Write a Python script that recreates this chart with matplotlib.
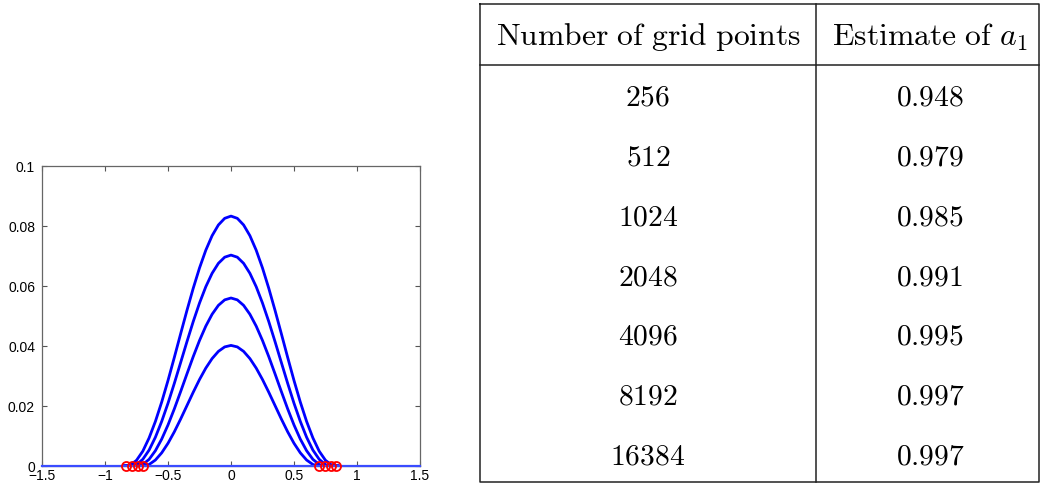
import numpy as np
import matplotlib
matplotlib.use("Agg")
import matplotlib.pyplot as plt

plt.rcParams["mathtext.fontset"] = "cm"

# ---- profile data (half profiles, x >= 0; curves are even in x) ----
x_half = [0.00, 0.05, 0.10, 0.15, 0.20, 0.25, 0.30, 0.35, 0.40,
          0.45, 0.50, 0.55, 0.60, 0.65, 0.70, 0.75, 0.80, 0.85]

profile_1 = [0.0833, 0.08256, 0.08035, 0.07677, 0.07193, 0.06600, 0.05921, 0.05180, 0.04403,
             0.03616, 0.02850, 0.02132, 0.01486, 0.00936, 0.00494, 0.00189, 0.00027, 0.0]
profile_2 = [0.0703, 0.06961, 0.06756, 0.06423, 0.05976, 0.05431, 0.04811, 0.04139, 0.03444,
             0.02752, 0.02091, 0.01487, 0.00959, 0.00531, 0.00223, 0.00044, 0.0, 0.0]
profile_3 = [0.0560, 0.05538, 0.05355, 0.05058, 0.04662, 0.04183, 0.03643, 0.03065, 0.02477,
             0.01902, 0.01368, 0.00897, 0.00510, 0.00222, 0.00050, 0.0, 0.0, 0.0]
profile_4 = [0.0402, 0.03970, 0.03821, 0.03581, 0.03263, 0.02882, 0.02457, 0.02010, 0.01563,
             0.01138, 0.00757, 0.00439, 0.00199, 0.00050, 0.0, 0.0, 0.0, 0.0]

# free-boundary positions (support edges)
left_edges = [-0.83, -0.785, -0.74, -0.70]
right_edges = [0.70, 0.745, 0.79, 0.83]

x_ticks = [-1.5, -1, -0.5, 0, 0.5, 1, 1.5]
x_tick_labels = ["\u22121.5", "\u22121", "\u22120.5", "0", "0.5", "1", "1.5"]
y_ticks = [0, 0.02, 0.04, 0.06, 0.08, 0.1]
y_tick_labels = ["0", "0.02", "0.04", "0.06", "0.08", "0.1"]

# ---- convergence table ----
grid_points = ["256", "512", "1024", "2048", "4096", "8192", "16384"]
a1_estimates = ["0.948", "0.979", "0.985", "0.991", "0.995", "0.997", "0.997"]
header = [r"$\mathrm{Number\ of\ grid\ points}$", r"$\mathrm{Estimate\ of\ }a_1$"]

W, H = 1042, 484
fig = plt.figure(figsize=(W / 100, H / 100), dpi=100)

# ---- left panel: profiles ----
ax = fig.add_axes([42 / W, 18 / H, 378 / W, 300 / H])
xh = np.array(x_half)
x_full = np.concatenate([-xh[::-1], xh[1:]])
for prof in (profile_1, profile_2, profile_3, profile_4):
    p = np.array(prof)
    y_full = np.concatenate([p[::-1], p[1:]])
    ax.plot(x_full, y_full, color="#0000ff", lw=2.0, zorder=3)
ax.plot([-1.5, 1.5], [0, 0], color="#3a4cff", lw=1.6, zorder=3, clip_on=False)
ax.plot(left_edges + right_edges, [0] * 8, linestyle="none", marker="o",
        markersize=6.5, markerfacecolor="none", markeredgecolor="#ff0000",
        markeredgewidth=1.3, zorder=4, clip_on=False)

ax.set_xlim(-1.5, 1.5)
ax.set_ylim(0, 0.1)
ax.set_xticks(x_ticks)
ax.set_xticklabels(x_tick_labels)
ax.set_yticks(y_ticks)
ax.set_yticklabels(y_tick_labels)
ax.tick_params(direction="in", length=3.5, width=0.8, color="#555555",
               top=True, right=True, labelsize=10,
               labelfontfamily="Liberation Sans")
ax.tick_params(axis="x", pad=2)
ax.tick_params(axis="y", pad=5)
for s in ax.spines.values():
    s.set_color("#666666")
    s.set_linewidth(0.9)

# ---- right panel: table ----
tab = fig.add_axes([0, 0, 1, 1])
tab.set_xlim(0, W)
tab.set_ylim(H, 0)
tab.axis("off")

t_left, t_right, t_top, t_bottom = 480, 1039, 4, 482
col_div, head_line = 816, 65
lc = "#222222"
tab.plot([t_left, t_right, t_right, t_left, t_left],
         [t_top, t_top, t_bottom, t_bottom, t_top], color=lc, lw=1.1)
tab.plot([t_left, t_right], [head_line, head_line], color=lc, lw=1.1)
tab.plot([col_div, col_div], [t_top, t_bottom], color=lc, lw=1.1)

c1 = (t_left + col_div) / 2
c2 = 930
fs_head, fs_cell = 22.8, 21.3
tab.text(c1, 37, header[0], ha="center", va="center", fontsize=fs_head)
tab.text(c2, 37, header[1], ha="center", va="center", fontsize=fs_head)
row_y0, row_dy = 97.5, 59.7
for i, (g, a) in enumerate(zip(grid_points, a1_estimates)):
    y = row_y0 + i * row_dy
    tab.text(c1, y, "$" + g + "$", ha="center", va="center", fontsize=fs_cell)
    tab.text(c2, y, "$" + a + "$", ha="center", va="center", fontsize=fs_cell)

fig.savefig("out.png", dpi=100)
